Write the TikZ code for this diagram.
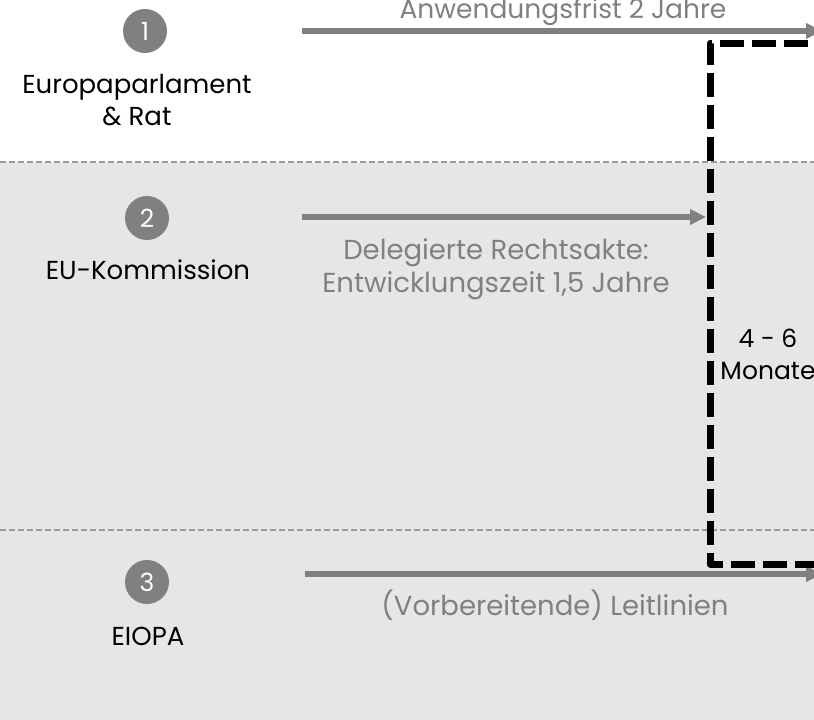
\documentclass[tikz,border=0pt]{standalone}
\usepackage{fontspec}
\setmainfont{Poppins}
\usetikzlibrary{arrows.meta}
\definecolor{bandgray}{HTML}{E6E6E6}
\definecolor{arrowgray}{HTML}{808080}
\definecolor{sepgray}{HTML}{9A9A9A}
\begin{document}
\begin{tikzpicture}[x=1pt,y=-1pt,
  numcirc/.style={circle, fill=arrowgray, minimum size=44pt, inner sep=0pt, text=white, font=\fontsize{25}{28}\selectfont},
  actor/.style={align=center, text=black, anchor=base, inner sep=0pt, font=\fontsize{26}{32}\selectfont},
  steplabel/.style={align=center, text=arrowgray, anchor=base, inner sep=0pt, font=\fontsize{27.5}{33}\selectfont},
  flow/.style={draw=arrowgray, line width=6pt, -{Triangle[length=16pt,width=15pt]}},
  sep/.style={draw=sepgray, line width=2pt, dash pattern=on 6pt off 3pt},
  frame/.style={draw=black, line width=7pt, line join=round, dash pattern=on 24pt off 8pt}]
\useasboundingbox (0,0) rectangle (814,720);
\clip (0,0) rectangle (814,720);
\fill[white] (0,0) rectangle (814,162);
\fill[bandgray] (0,162) rectangle (814,720);
\draw[sep] (0,162) -- (814,162);
\draw[sep] (0,530) -- (814,530);
% actors
\node[numcirc] (c1) at (145,31) {1};
\node[actor] (t1) at (137,125) {Europaparlament\\\& Rat};
\node[numcirc] (c2) at (147,218) {2};
\node[actor] (t2) at (148,279) {EU-Kommission};
\node[numcirc] (c3) at (147,582) {3};
\node[actor] (t3) at (148,645) {EIOPA};
% arrows
\coordinate (a1s) at (302,31);
\coordinate (a1e) at (822,31);
\coordinate (a2s) at (302,217);
\coordinate (a2e) at (706,217);
\coordinate (a3s) at (305,574);
\coordinate (a3e) at (822,574);
\draw[flow] (a1s) -- (a1e);
\draw[flow] (a2s) -- (a2e);
\draw[flow] (a3s) -- (a3e);
\node[steplabel, font=\fontsize{26.5}{33}\selectfont] (l1) at (563,19) {Anwendungsfrist 2 Jahre};
\node[steplabel] (l2) at (496,292) {Delegierte Rechtsakte:\\Entwicklungszeit 1,5 Jahre};
\node[steplabel] (l3) at (555,615) {(Vorbereitende) Leitlinien};
% frame
\coordinate (f1) at (840,43);
\coordinate (f2) at (710,43);
\coordinate (f3) at (710,564);
\coordinate (f4) at (840,564);
\draw[frame] (f1) -- (f2) -- (f3) -- (f4);
\node[align=center, text=black, anchor=base, inner sep=0pt, font=\fontsize{25}{32}\selectfont] (m) at (768,379) {4 - 6\\Monate};
\end{tikzpicture}
\end{document}
